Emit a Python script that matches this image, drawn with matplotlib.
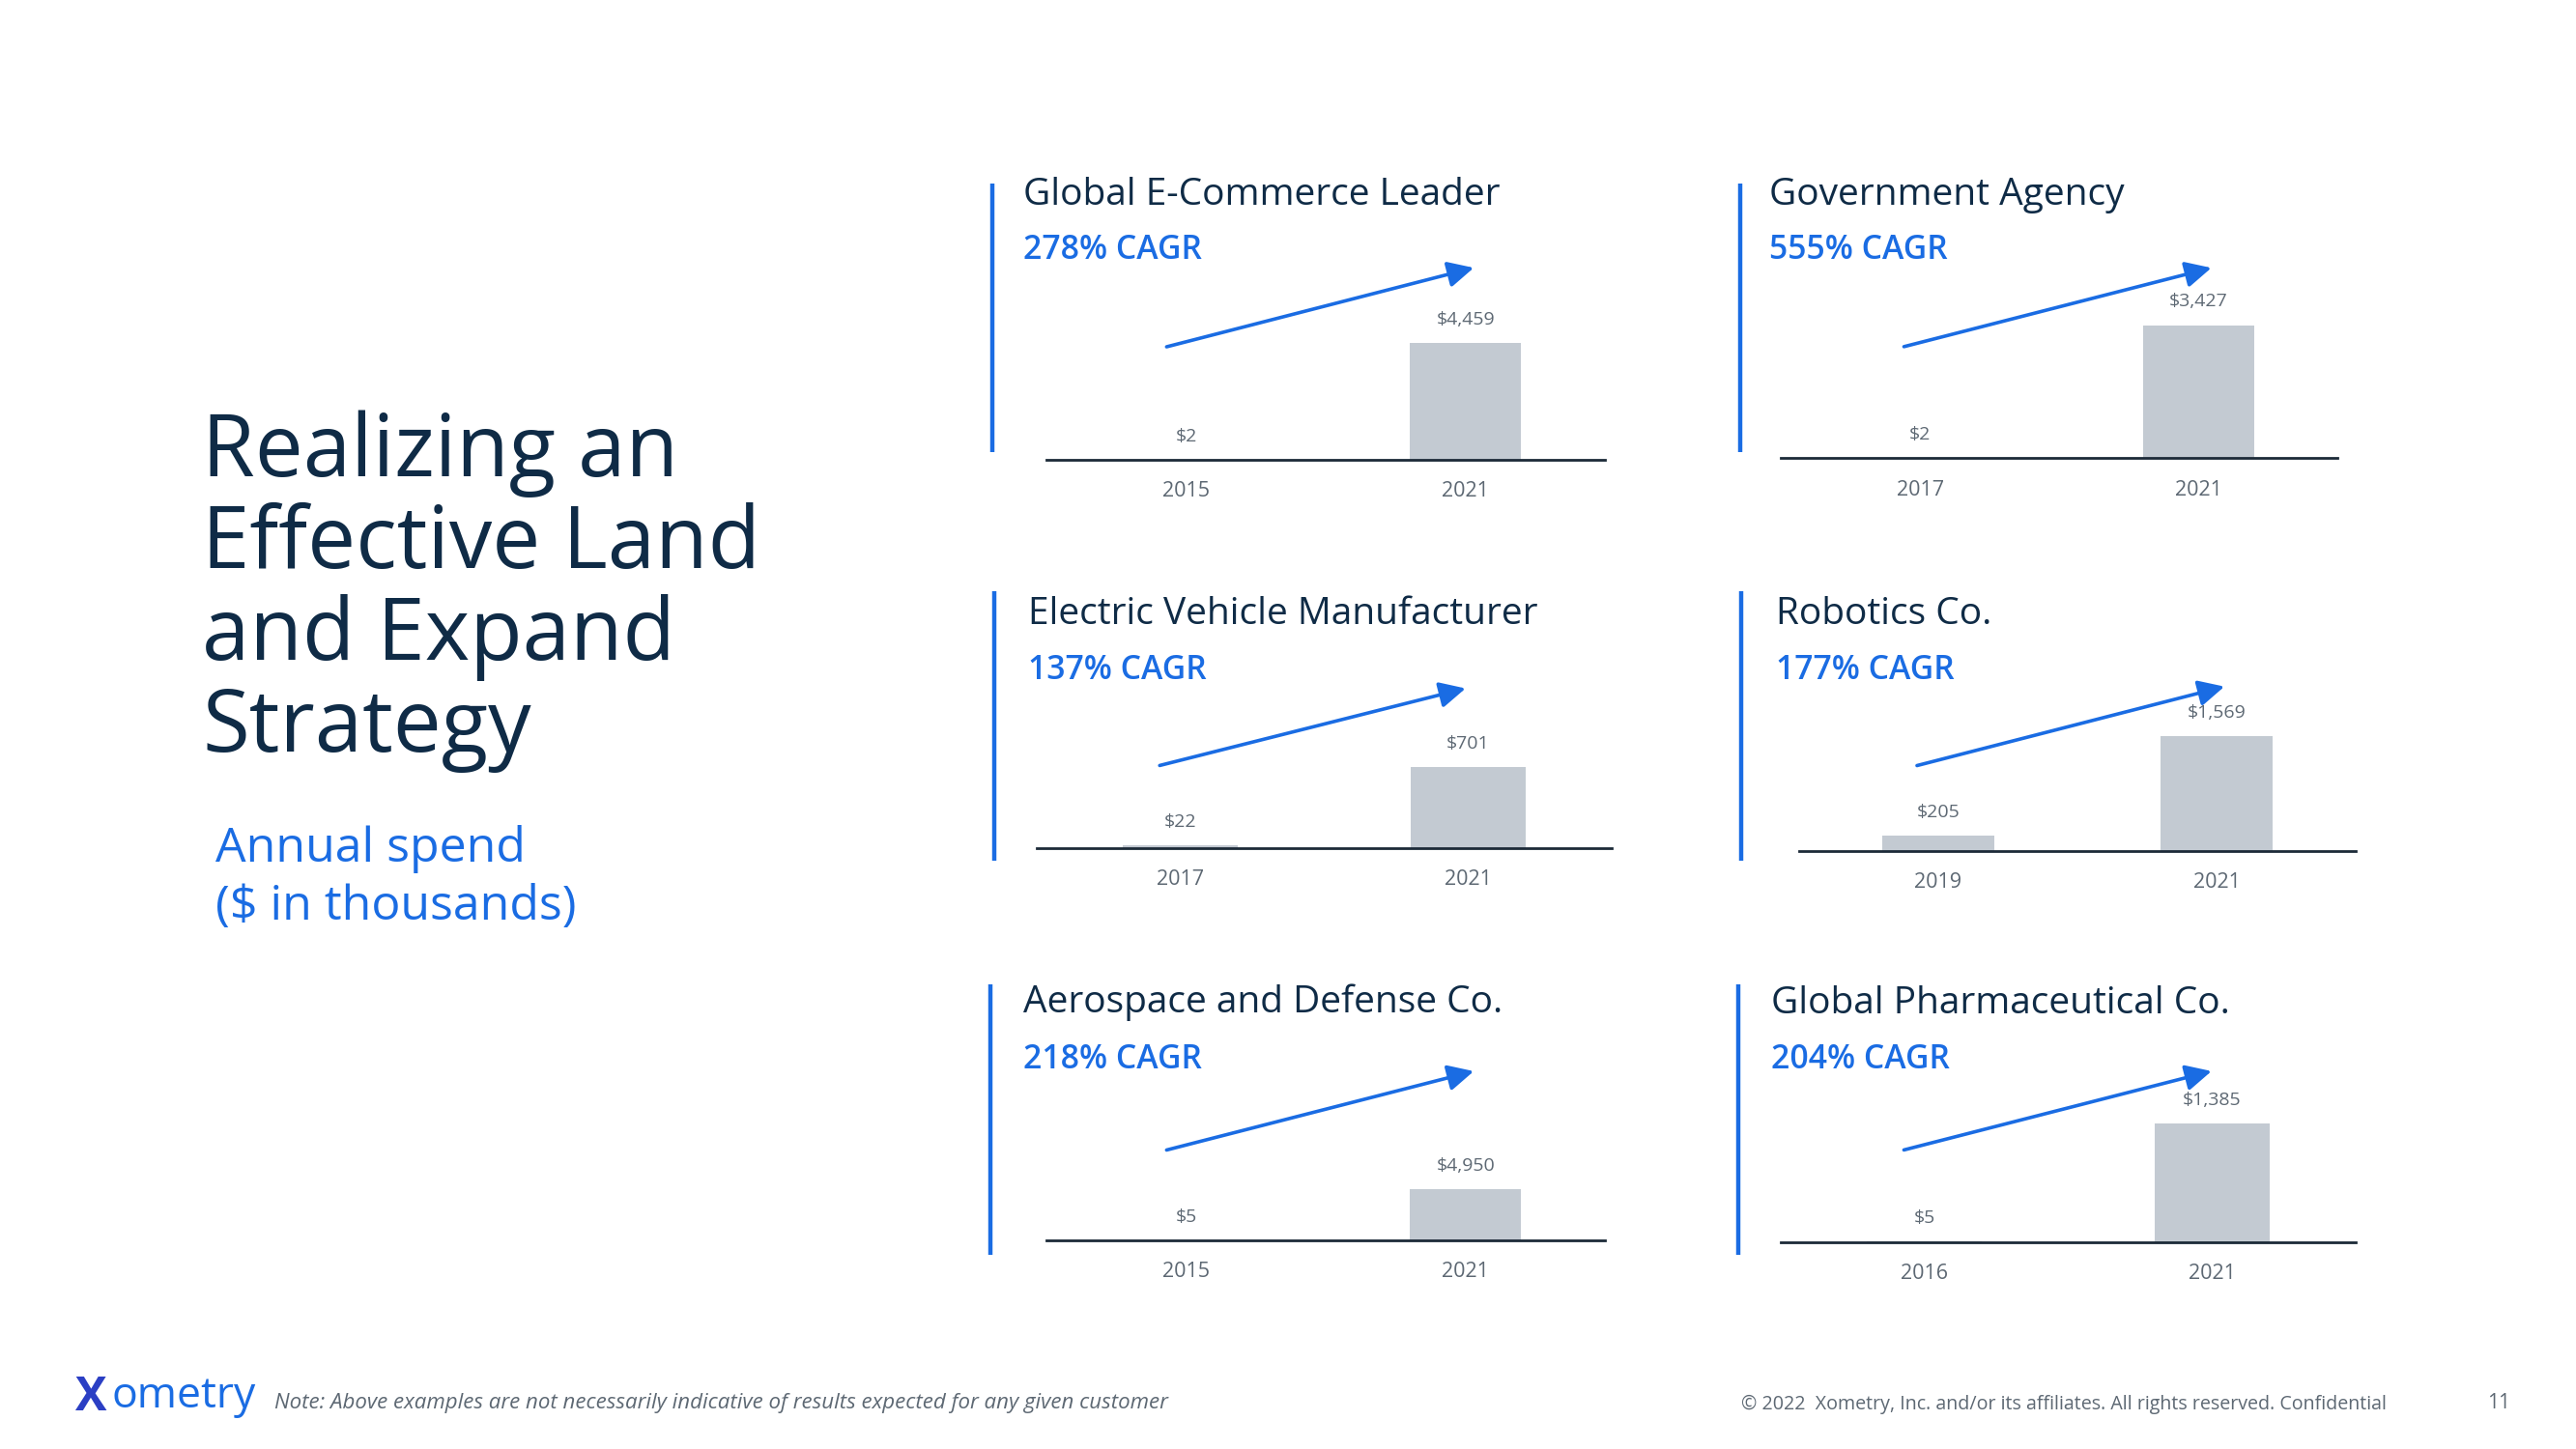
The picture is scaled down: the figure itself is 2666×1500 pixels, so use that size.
import matplotlib
matplotlib.use("Agg")
import matplotlib.pyplot as plt

plt.rcParams['font.family'] = ['Open Sans', 'DejaVu Sans']

# ---------------- data ----------------
companies = ["Global E-Commerce Leader", "Government Agency",
             "Electric Vehicle Manufacturer", "Robotics Co.",
             "Aerospace and Defense Co.", "Global Pharmaceutical Co."]
cagr_labels = ["278% CAGR", "555% CAGR", "137% CAGR", "177% CAGR", "218% CAGR", "204% CAGR"]
start_years = ["2015", "2017", "2017", "2019", "2015", "2016"]
end_years = ["2021", "2021", "2021", "2021", "2021", "2021"]
start_values = [2, 2, 22, 205, 5, 5]
end_values = [4459, 3427, 701, 1569, 4950, 1385]

# ---------------- layout (reference px on a 1568x882 grid) ----------------
W, H = 1568.0, 882.0
# line_x, line_top, line_bot, title_x, title_y, cagr_y, base_x0, base_x1, base_y, bar_px
panels = [
    (604, 112, 275, 623, 119, 152, 637, 977, 280, 71),
    (1059, 112, 275, 1077, 119, 152, 1084, 1423, 279, 81),
    (605, 360, 524, 626, 374, 408, 631, 981, 516, 49),
    (1060, 360, 524, 1081, 374, 408, 1095, 1434, 518, 70),
    (603, 599, 764, 623, 610, 645, 637, 977, 755, 31),
    (1058, 599, 764, 1078, 611, 645, 1084, 1434, 756, 72),
]
# arrow start/end in axes fraction
arrows = [
    ((0.215, 0.53), (0.765, 0.90)),
    ((0.221, 0.523), (0.773, 0.892)),
    ((0.214, 0.385), (0.746, 0.746)),
    ((0.212, 0.40), (0.764, 0.77)),
    ((0.215, 0.423), (0.765, 0.792)),
    ((0.214, 0.431), (0.749, 0.80)),
]
AX_H = 130.0

NAVY = "#0f2b46"
BLUE = "#1a6ce3"
GRAY_TXT = "#5d6873"
BAR = "#c3cad2"
BASE = "#1c2a38"

fig = plt.figure(figsize=(26.66, 15), dpi=100)
fig.patch.set_facecolor("white")

def fx(x):
    return x / W

def fy(y):
    return 1 - y / H

# Left headline
title_lines = ["Realizing an", "Effective Land", "and Expand", "Strategy"]
for i, line in enumerate(title_lines):
    fig.text(fx(123), fy(276 + i * 56), line, fontsize=64, color=NAVY,
             ha="left", va="center")
fig.text(fx(131), fy(517), "Annual spend", fontsize=36, color=BLUE, ha="left", va="center")
fig.text(fx(131), fy(552), "($ in thousands)", fontsize=36, color=BLUE, ha="left", va="center")

for i, p in enumerate(panels):
    lx, lt, lb, tx, ty, cy, bx0, bx1, by, bpx = p
    # vertical accent line
    fig.add_artist(plt.Line2D([fx(lx), fx(lx)], [fy(lt), fy(lb)], color=BLUE, lw=3.2,
                              transform=fig.transFigure, solid_capstyle="butt"))
    fig.text(fx(tx), fy(ty), companies[i], fontsize=28, color=NAVY, ha="left", va="center")
    fig.text(fx(tx), fy(cy), cagr_labels[i], fontsize=24.3, color=BLUE, fontweight="semibold",
             ha="left", va="center")

    ax = fig.add_axes([fx(bx0), fy(by), fx(bx1) - fx(bx0), AX_H / H])
    ax.set_xlim(-0.5, 1.5)
    ymax = end_values[i] * AX_H / bpx
    ax.set_ylim(0, ymax)
    vals = [start_values[i], end_values[i]]
    ax.bar([0, 1], vals, width=0.4, color=BAR, zorder=1)
    for xi, v in enumerate(vals):
        ax.annotate(f"${v:,}", xy=(xi, v), xytext=(0, 17.5), textcoords="offset points",
                    ha="center", va="center", fontsize=14, color=GRAY_TXT)
    for xi, lab in enumerate([start_years[i], end_years[i]]):
        ax.annotate(lab, xy=(xi, 0), xycoords=("data", "axes fraction"), xytext=(0, -23.5),
                    textcoords="offset points", ha="center", va="center",
                    fontsize=15.5, color=GRAY_TXT)
    (sx, sy), (ex, ey) = arrows[i]
    ax.annotate("", xy=(ex, ey), xytext=(sx, sy), xycoords="axes fraction",
                arrowprops=dict(arrowstyle="-|>,head_length=0.9,head_width=0.45",
                                color=BLUE, lw=2.6, shrinkA=0, shrinkB=0,
                                mutation_scale=18))
    for s in ["top", "right", "left"]:
        ax.spines[s].set_visible(False)
    ax.spines["bottom"].set_color(BASE)
    ax.spines["bottom"].set_linewidth(2.0)
    ax.set_xticks([])
    ax.set_yticks([])
    ax.patch.set_alpha(0)

# Footer
fig.text(fx(46), fy(851), "X", fontsize=35, color="#2b3fc4", fontweight="bold",
         ha="left", va="center")
fig.text(fx(68), fy(850), "ometry", fontsize=32, color=BLUE, ha="left", va="center")
fig.text(fx(167), fy(854), "Note: Above examples are not necessarily indicative of results expected for any given customer",
         fontsize=16, style="italic", color=GRAY_TXT, ha="left", va="center")
fig.text(fx(1060), fy(855), "\u00a9 2022  Xometry, Inc. and/or its affiliates. All rights reserved. Confidential",
         fontsize=14.1, color=GRAY_TXT, ha="left", va="center")
fig.text(fx(1528), fy(854), "11", fontsize=15, color=GRAY_TXT, ha="right", va="center")

fig.savefig("out.png", dpi=100, facecolor="white")
